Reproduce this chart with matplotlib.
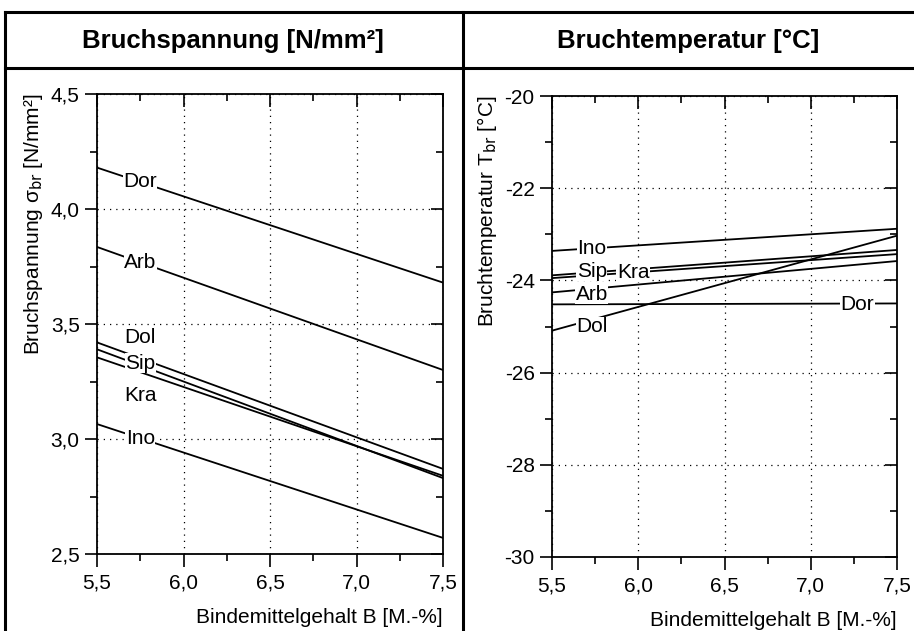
import numpy as np
import matplotlib.pyplot as plt
from matplotlib.ticker import MultipleLocator, FuncFormatter

plt.rcParams['font.family'] = ['Liberation Sans', 'DejaVu Sans']

# binder content range (x)
b = [5.5, 7.5]

# left panel: breaking stress [N/mm2] at start / end of range
names_s = ['Dor', 'Arb', 'Dol', 'Sip', 'Kra', 'Ino']
stress = {
    'Dor': [4.18, 3.68],
    'Arb': [3.835, 3.30],
    'Dol': [3.42, 2.87],
    'Sip': [3.39, 2.83],
    'Kra': [3.355, 2.84],
    'Ino': [3.065, 2.57],
}
# label positions
lab_s = {
    'Dor': (5.75, 4.118),
    'Arb': (5.75, 3.768),
    'Dol': (5.75, 3.44),
    'Sip': (5.75, 3.33),
    'Kra': (5.75, 3.19),
    'Ino': (5.75, 3.003),
}

# right panel: breaking temperature [°C]
temp = {
    'Ino': [-23.36, -22.88],
    'Sip': [-23.89, -23.34],
    'Kra': [-23.95, -23.43],
    'Arb': [-24.26, -23.58],
    'Dor': [-24.52, -24.50],
    'Dol': [-25.09, -23.03],
}
lab_t = {
    'Ino': (5.73, -23.3),
    'Sip': (5.73, -23.8),
    'Kra': (5.97, -23.82),
    'Arb': (5.73, -24.3),
    'Dol': (5.73, -25.0),
    'Dor': (7.27, -24.52),
}

fig = plt.figure(figsize=(9.14, 6.31), dpi=100)

# table frame lines
W, H = 914, 631
def fx(px): return px / W
def fy(py): return 1 - py / H
frame = dict(color='black', lw=2.2, transform=fig.transFigure)
fig.add_artist(plt.Line2D([fx(5), fx(914)], [fy(12), fy(12)], **frame))
fig.add_artist(plt.Line2D([fx(5), fx(914)], [fy(68), fy(68)], **frame))
fig.add_artist(plt.Line2D([fx(5), fx(5)], [fy(12), fy(631)], **frame))
fig.add_artist(plt.Line2D([fx(463), fx(463)], [fy(12), fy(631)], **frame))

fig.text(fx(233), fy(41), 'Bruchspannung [N/mm²]', ha='center', va='center',
         fontsize=18.5, fontweight='bold')
fig.text(fx(688), fy(41), 'Bruchtemperatur [°C]', ha='center', va='center',
         fontsize=18.5, fontweight='bold')

comma = FuncFormatter(lambda v, p: ('%.1f' % v).replace('.', ','))
intfmt = FuncFormatter(lambda v, p: '%d' % v)

def style(ax):
    ax.set_xlim(5.5, 7.5)
    ax.xaxis.set_major_locator(MultipleLocator(0.5))
    ax.xaxis.set_minor_locator(MultipleLocator(0.25))
    ax.xaxis.set_major_formatter(comma)
    ax.tick_params(which='both', top=True, right=True, labelsize=15, width=1.2)
    ax.tick_params(which='major', length=9)
    ax.tick_params(which='minor', length=5)
    ax.tick_params(axis='x', which='major', pad=5)
    for sp in ax.spines.values():
        sp.set_linewidth(1.3)
    ax.grid(True, which='major', linestyle=(0, (1, 4)), color='black', lw=0.9)
    ax.set_xlabel('Bindemittelgehalt B [M.-%]', fontsize=15, loc='right', labelpad=11)
    # bottom/left ticks out, top/right ticks in
    ax.xaxis.set_tick_params(which='both', direction='out')
    ax.yaxis.set_tick_params(which='both', direction='out')
    for t in ax.xaxis.get_major_ticks() + ax.xaxis.get_minor_ticks():
        t.tick2line.set_marker(3)
    for t in ax.yaxis.get_major_ticks() + ax.yaxis.get_minor_ticks():
        t.tick2line.set_marker(0)

box = dict(facecolor='white', edgecolor='none', pad=0.3)

ax1 = fig.add_axes([fx(97), fy(554), fx(443) - fx(97), fy(94) - fy(554)])
for n in names_s:
    ax1.plot(b, stress[n], color='black', lw=1.3)
for n in names_s:
    x, y = lab_s[n]
    ax1.text(x, y, n, fontsize=15, ha='center', va='center', bbox=box, zorder=5)
ax1.set_ylim(2.5, 4.5)
ax1.yaxis.set_major_locator(MultipleLocator(0.5))
ax1.yaxis.set_minor_locator(MultipleLocator(0.25))
ax1.yaxis.set_major_formatter(comma)
style(ax1)
ax1.set_ylabel('Bruchspannung σ$_{\\rm br}$ [N/mm²]', fontsize=15, loc='top', labelpad=4)

ax2 = fig.add_axes([fx(552), fy(557), fx(897) - fx(552), fy(96) - fy(557)])
for n in temp:
    ax2.plot(b, temp[n], color='black', lw=1.3)
for n in temp:
    x, y = lab_t[n]
    ax2.text(x, y, n, fontsize=15, ha='center', va='center', bbox=box, zorder=5)
ax2.set_ylim(-30, -20)
ax2.yaxis.set_major_locator(MultipleLocator(2))
ax2.yaxis.set_minor_locator(MultipleLocator(1))
ax2.yaxis.set_major_formatter(intfmt)
style(ax2)
ax2.set_ylabel('Bruchtemperatur T$_{\\rm br}$ [°C]', fontsize=15, loc='top', labelpad=4)

fig.savefig('out.png', dpi=100)
